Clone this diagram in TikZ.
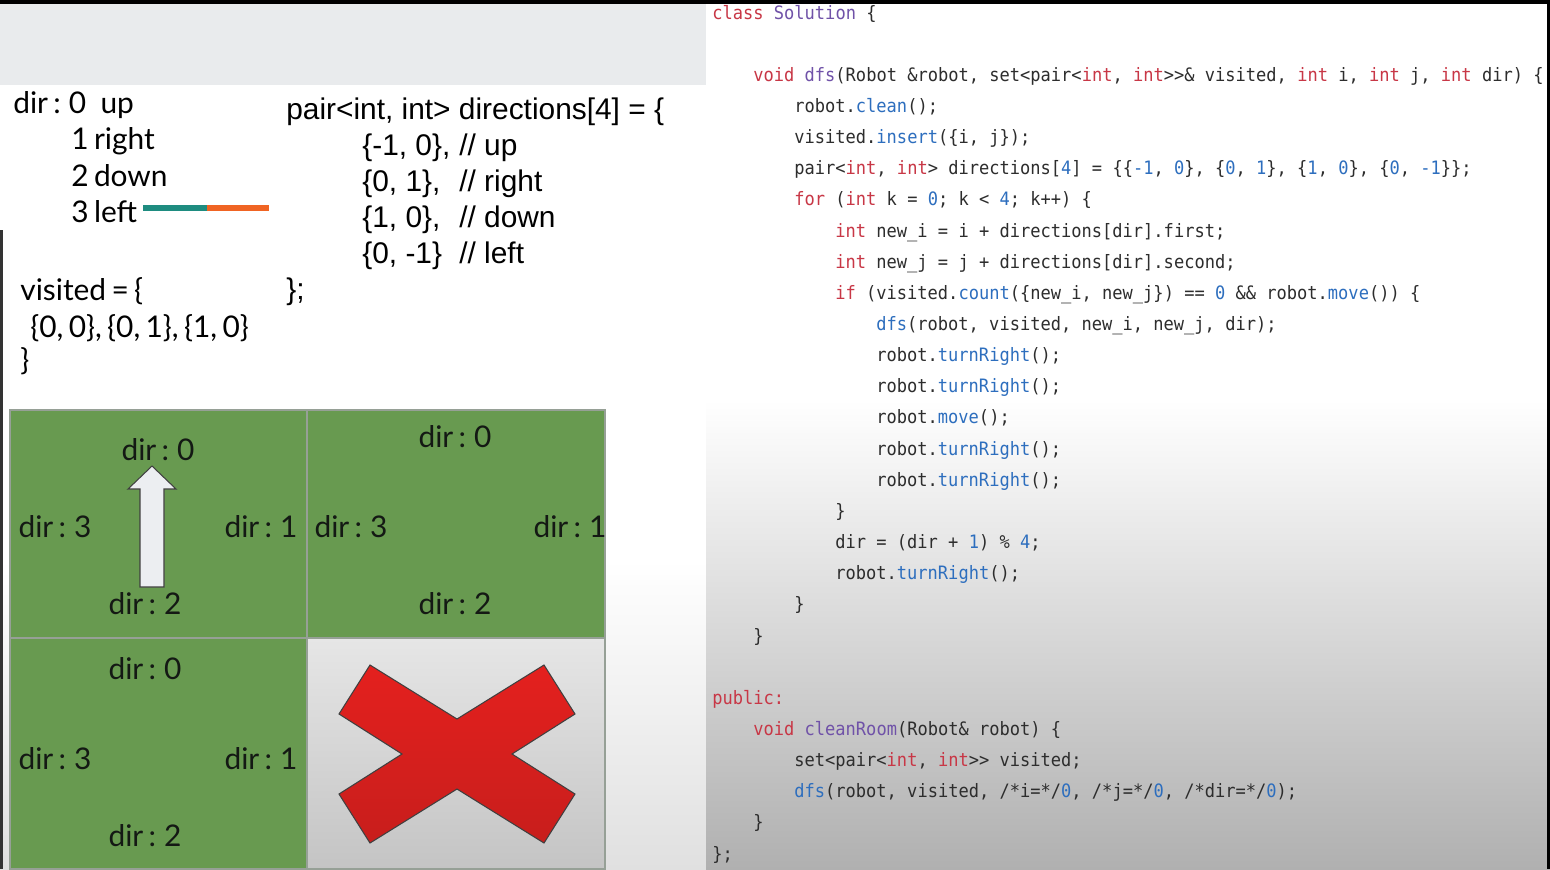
\documentclass[tikz,border=0pt]{standalone}
\usepackage{fontspec}
\usepackage{graphicx}
\newfontfamily\latofont[WordSpace=0.7]{Lato}
\newfontfamily\arialfont{Liberation Sans}
\newfontfamily\codefont{DejaVu Sans Mono}
\definecolor{kwred}{RGB}{200,55,70}
\definecolor{defpurple}{RGB}{112,82,168}
\definecolor{callblue}{RGB}{45,110,190}
\definecolor{codetext}{RGB}{45,45,45}
\definecolor{cellgreen}{RGB}{104,154,80}
\definecolor{panelgray}{RGB}{233,235,237}
\definecolor{barteal}{RGB}{30,140,128}
\definecolor{barorange}{RGB}{240,100,35}
\definecolor{leftgray}{RGB}{224,224,224}
\definecolor{rightgray}{RGB}{176,176,176}
\definecolor{gridgray}{RGB}{150,160,150}
\definecolor{xredtop}{RGB}{228,32,30}
\definecolor{xredbot}{RGB}{200,30,28}
\definecolor{arrowfill}{RGB}{236,238,241}
\newcommand\ckw[1]{\textcolor{kwred}{#1}}
\newcommand\cdef[1]{\textcolor{defpurple}{#1}}
\newcommand\ccall[1]{\textcolor{callblue}{#1}}
\newcommand\cnum[1]{\textcolor{callblue}{#1}}
\newcommand\codeln[4]{\node[codeline] (#1) at ({712+41*#2},{19+31.15*#3}) {\scalebox{0.924}[1]{#4}};}
\tikzset{
  lbl/.style={font=\latofont\fontsize{17}{20}\selectfont, inner sep=0pt, text=black},
  lt/.style={lbl, anchor=base west},
  celllbl/.style={lbl, text={rgb,255:red,20;green,25;blue,20}, anchor=center},
  ar/.style={font=\arialfont\fontsize{17}{20}\selectfont, inner sep=0pt, anchor=base west, text=black},
  codeline/.style={font=\codefont\fontsize{10.5}{12}\selectfont, text=codetext, inner sep=0pt, anchor=base west},
  gridline/.style={draw=gridgray, line width=0.8pt},
}
\begin{document}
\begin{tikzpicture}[x=0.02cm,y=-0.02cm]
\useasboundingbox (0,0) rectangle (1550,869);
% backgrounds
\fill[white] (0,0) rectangle (1550,869);
\shade[top color=white, bottom color=leftgray] (0,560) rectangle (706,869);
\shade[top color=white, bottom color=rightgray] (706,400) rectangle (1550,869);
\fill[panelgray] (0,0) rectangle (706,85);
\fill[black] (0,0) rectangle (1550,4);
\fill[black] (1547,0) rectangle (1550,869);
\fill[black!80] (0,230) rectangle (2.5,869);

% direction legend
\node[lt] (d0) at (13,113) {dir : 0\hspace{0.18cm} up};
\node[lt] (d1) at (71,149) {1 right};
\node[lt] (d2) at (71,186) {2 down};
\node[lt] (d3) at (71,222) {3 left};
\draw[barteal, line width=0.13cm] (143,208) -- (207,208);
\draw[barorange, line width=0.13cm] (207,208) -- (269,208);

\node[lt] (v0) at (20,300) {visited = \{};
\node[lt] (v1) at (30,337) {\{0, 0\}, \{0, 1\}, \{1, 0\}};
\node[lt] (v2) at (20,370) {\}};

% directions array
\node[ar] (p0) at (286,119) {pair<int, int> directions[4] = \{};
\node[ar] (p1) at (362,155) {\makebox[1.94cm][l]{\{-1, 0\},}// up};
\node[ar] (p2) at (362,191) {\makebox[1.94cm][l]{\{0, 1\},}// right};
\node[ar] (p3) at (362,227) {\makebox[1.94cm][l]{\{1, 0\},}// down};
\node[ar] (p4) at (362,263) {\makebox[1.94cm][l]{\{0, -1\}}// left};
\node[ar] (p5) at (286,299) {\};};

% grid
\fill[cellgreen] (10,410) rectangle (605,869);
\shade[top color={rgb,255:red,230;green,230;blue,230}, bottom color={rgb,255:red,196;green,196;blue,196}] (307,638) rectangle (605,869);
\draw[gridline] (10,410) rectangle (605,869);
\draw[gridline] (307,410) -- (307,869);
\draw[gridline] (10,638) -- (605,638);

% cell labels
\node[celllbl] (a0) at (158,450) {dir : 0};
\node[celllbl] (a3) at (55,527) {dir : 3};
\node[celllbl] (a1) at (261,527) {dir : 1};
\node[celllbl] (a2) at (145,604) {dir : 2};
\node[celllbl] (b0) at (455,437) {dir : 0};
\node[celllbl] (b3) at (351,527) {dir : 3};
\node[celllbl] (b1) at (570,527) {dir : 1};
\node[celllbl] (b2) at (455,604) {dir : 2};
\node[celllbl] (c0) at (145,669) {dir : 0};
\node[celllbl] (c3) at (55,759) {dir : 3};
\node[celllbl] (c1) at (261,759) {dir : 1};
\node[celllbl] (c2) at (145,836) {dir : 2};

% arrow
\filldraw[fill=arrowfill, draw=black!75, line width=0.6pt] (140,587) -- (140,489) -- (128,489) -- (152,466) -- (176,489) -- (164,489) -- (164,587) -- cycle;

% red X
\shadedraw[top color=xredtop, bottom color=xredbot, draw=black!75, line width=0.6pt]
  (370,665) -- (457,719) -- (544,665) -- (575,714) -- (512,754) -- (575,794) -- (544,843) -- (457,789) -- (370,843) -- (339,794) -- (402,754) -- (339,714) -- cycle;

% code
\codeln{k0}{0}{0}{\ckw{class} \cdef{Solution} \{}
\codeln{k2}{1}{2}{\ckw{void} \cdef{dfs}(Robot \&robot, set<pair<\ckw{int}, \ckw{int}>\kern0pt>\& visited, \ckw{int} i, \ckw{int} j, \ckw{int} dir) \{}
\codeln{k3}{2}{3}{robot.\ccall{clean}();}
\codeln{k4}{2}{4}{visited.\ccall{insert}(\{i, j\});}
\codeln{k5}{2}{5}{pair<\ckw{int}, \ckw{int}> directions[\cnum{4}] = \{\{\cnum{-1}, \cnum{0}\}, \{\cnum{0}, \cnum{1}\}, \{\cnum{1}, \cnum{0}\}, \{\cnum{0}, \cnum{-1}\}\};}
\codeln{k6}{2}{6}{\ckw{for} (\ckw{int} k = \cnum{0}; k < \cnum{4}; k++) \{}
\codeln{k7}{3}{7}{\ckw{int} new\_i = i + directions[dir].first;}
\codeln{k8}{3}{8}{\ckw{int} new\_j = j + directions[dir].second;}
\codeln{k9}{3}{9}{\ckw{if} (visited.\ccall{count}(\{new\_i, new\_j\}) == \cnum{0} \&\& robot.\ccall{move}()) \{}
\codeln{k10}{4}{10}{\ccall{dfs}(robot, visited, new\_i, new\_j, dir);}
\codeln{k11}{4}{11}{robot.\ccall{turnRight}();}
\codeln{k12}{4}{12}{robot.\ccall{turnRight}();}
\codeln{k13}{4}{13}{robot.\ccall{move}();}
\codeln{k14}{4}{14}{robot.\ccall{turnRight}();}
\codeln{k15}{4}{15}{robot.\ccall{turnRight}();}
\codeln{k16}{3}{16}{\}}
\codeln{k17}{3}{17}{dir = (dir + \cnum{1}) \% \cnum{4};}
\codeln{k18}{3}{18}{robot.\ccall{turnRight}();}
\codeln{k19}{2}{19}{\}}
\codeln{k20}{1}{20}{\}}
\codeln{k22}{0}{22}{\ckw{public:}}
\codeln{k23}{1}{23}{\ckw{void} \cdef{cleanRoom}(Robot\& robot) \{}
\codeln{k24}{2}{24}{set<pair<\ckw{int}, \ckw{int}>\kern0pt> visited;}
\codeln{k25}{2}{25}{\ccall{dfs}(robot, visited, /*i=*/\cnum{0}, /*j=*/\cnum{0}, /*dir=*/\cnum{0});}
\codeln{k26}{1}{26}{\}}
\codeln{k27}{0}{27}{\};}
\end{tikzpicture}
\end{document}
